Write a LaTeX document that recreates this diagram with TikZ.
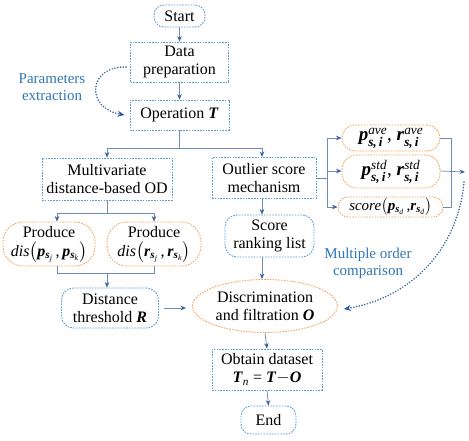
\documentclass[tikz,border=0pt]{standalone}
\usepackage{amsmath}
\usepackage{fontspec}
\setmainfont{Liberation Serif}
\usetikzlibrary{arrows.meta,shapes.geometric,calc}
\definecolor{cblue}{HTML}{5B9BD5}
\definecolor{corange}{HTML}{F2A561}
\definecolor{cline}{HTML}{6F8DB4}
\definecolor{ctip}{HTML}{3A62A0}
\definecolor{cdot}{HTML}{2E5C9A}
\definecolor{clabel}{HTML}{2E75B6}
\newcommand{\bi}[1]{\textbf{\textit{#1}}}
\begin{document}
\begin{tikzpicture}[x=1pt,y=-1pt,
  base/.style={dash pattern=on 1.6pt off 1.2pt, line width=0.9pt, inner sep=0pt, align=center, font=\fontsize{16}{18}\selectfont},
  bbox/.style={base, draw=cblue},
  obox/.style={base, draw=corange},
  conn/.style={draw=cline, line width=0.75pt},
  arr/.style={conn, -{Stealth[length=5.5pt,width=4.5pt,color=ctip]}},
  dots/.style={draw=cdot, line width=1.7pt, dash pattern=on 0pt off 2.8pt, line cap=round, -{Stealth[length=7pt,width=6pt,color=cdot]}},
  lab/.style={text=clabel, align=center, font=\fontsize{15}{17}\selectfont}
]
\useasboundingbox (0,0) rectangle (469,440);

% nodes
\node[bbox, rounded corners=10, minimum width=51, minimum height=22] (start) at (179.5,16) {Start};
\node[bbox, minimum width=98, minimum height=40] (data) at (179.5,62) {Data\\preparation};
\node[bbox, minimum width=99, minimum height=30] (op) at (179.5,115) {Operation \bi{T}};
\node[bbox, minimum width=130, minimum height=42] (multi) at (107,179) {Multivariate\\distance-based OD};
\node[bbox, minimum width=104, minimum height=41] (outl) at (264,178) {Outlier score\\mechanism};
\node[obox, rounded corners=20, minimum width=92, minimum height=44] (prodp) at (49,244)
  {Produce\\[1pt]\textit{dis}$\big($\bi{p}$_{\bi{s}_{\textit{j}}}$\,,\,\bi{p}$_{\bi{s}_{\textit{k}}}\big)$};
\node[obox, rounded corners=20, minimum width=94, minimum height=44] (prodr) at (154,244)
  {Produce\\[1pt]\textit{dis}$\big($\bi{r}$_{\bi{s}_{\textit{j}}}$\,,\,\bi{r}$_{\bi{s}_{\textit{k}}}\big)$};
\node[bbox, rounded corners=12, minimum width=97, minimum height=40] (dist) at (110,308) {Distance\\threshold \bi{R}};
\node[obox, ellipse, minimum width=145, minimum height=53] (disc) at (265,306) {Discrimination\\and filtration \bi{O}};
\node[bbox, rounded corners=12, minimum width=89, minimum height=42] (score) at (269.5,236) {Score\\ranking list};
\node[obox, rounded corners=13, minimum width=98, minimum height=26, font=\fontsize{19}{20}\selectfont] (ave) at (391,138)
  {\bi{p}$^{\textit{ave}}_{\bi{s,\,i}}$, \bi{r}$^{\textit{ave}}_{\bi{s,\,i}}$};
\node[obox, rounded corners=15, minimum width=98, minimum height=33, font=\fontsize{19}{20}\selectfont] (std) at (391,171.5)
  {\bi{p}$^{\textit{std}}_{\bi{s,\,i}}$, \bi{r}$^{\textit{std}}_{\bi{s,\,i}}$};
\node[obox, rounded corners=10, minimum width=105, minimum height=20, font=\fontsize{15}{17}\selectfont] (scp) at (390.5,207)
  {\textit{score}$\big($\bi{p}$_{\bi{s}_{\textit{d}}}$\,,\bi{r}$_{\bi{s}_{\textit{d}}}\big)$};
\node[bbox, minimum width=110, minimum height=41] (obt) at (267,369.5) {Obtain dataset\\\bi{T}$_{\textit{n}}$ = \bi{T}$-$\bi{O}};
\node[bbox, rounded corners=10, minimum width=55, minimum height=28] (end) at (268.5,420) {End};

\node[lab] (plab) at (52,87) {Parameters\\extraction};
\node[lab] (mlab) at (368,263) {Multiple order\\comparison};

% coordinates
\coordinate (s1) at (179.5,148);
\coordinate (s2) at (107,213);
\coordinate (s3) at (107,273);
\coordinate (rl) at (327,178);
\coordinate (rr) at (451,172);
\coordinate (rtip) at (465,172);

% connectors
\draw[arr] (start) -- (data);
\draw[arr] (data) -- (op);
\draw[conn] (op.south) -- (s1);
\draw[arr] (s1) -| (multi.north);
\draw[arr] (s1) -| ([xshift=-2pt]outl.north);
\draw[conn] (multi.south) -- (s2);
\draw[arr] (s2) -| ([xshift=8pt]prodp.north);
\draw[arr] (s2) -| (prodr.north);
\draw[conn] ([xshift=8pt]prodp.south) |- (s3);
\draw[conn] (prodr.south) |- (s3);
\draw[arr] (s3) -- (s3 |- dist.north);
\draw[arr, shorten <=5pt, shorten >=6pt] (dist.east) -- (dist.east -| disc.west);
\draw[arr] ([xshift=-2pt]outl.south) -- ([xshift=-2pt]outl.south |- score.north);
\draw[arr] ([xshift=-7.5pt]score.south) -- ([xshift=-7.5pt]score.south |- disc.north);
\draw[conn] (outl.east) -- (rl);
\draw[arr] (rl) |- (ave.west);
\draw[arr] (rl) |- ([yshift=0.5pt]std.west);
\draw[arr] (rl) |- (scp.west);
\draw[conn] (ave.east) -| (rr);
\draw[conn] (scp.east) -| (rr);
\draw[arr] ([yshift=0.5pt]std.east) -- (rtip);
\draw[arr] (disc.south) -- (obt.north);
\draw[arr] (obt.south) -- (end.north);

% dotted curves
\draw[dots] ([xshift=-4pt,yshift=-5pt]data.west) .. controls (88,66) and (85,108) .. ([xshift=-5pt]op.west);
\draw[dots] (464,182) .. controls (458,250) and (410,298) .. ([xshift=6pt,yshift=-3pt]disc.east);
\end{tikzpicture}
\end{document}
